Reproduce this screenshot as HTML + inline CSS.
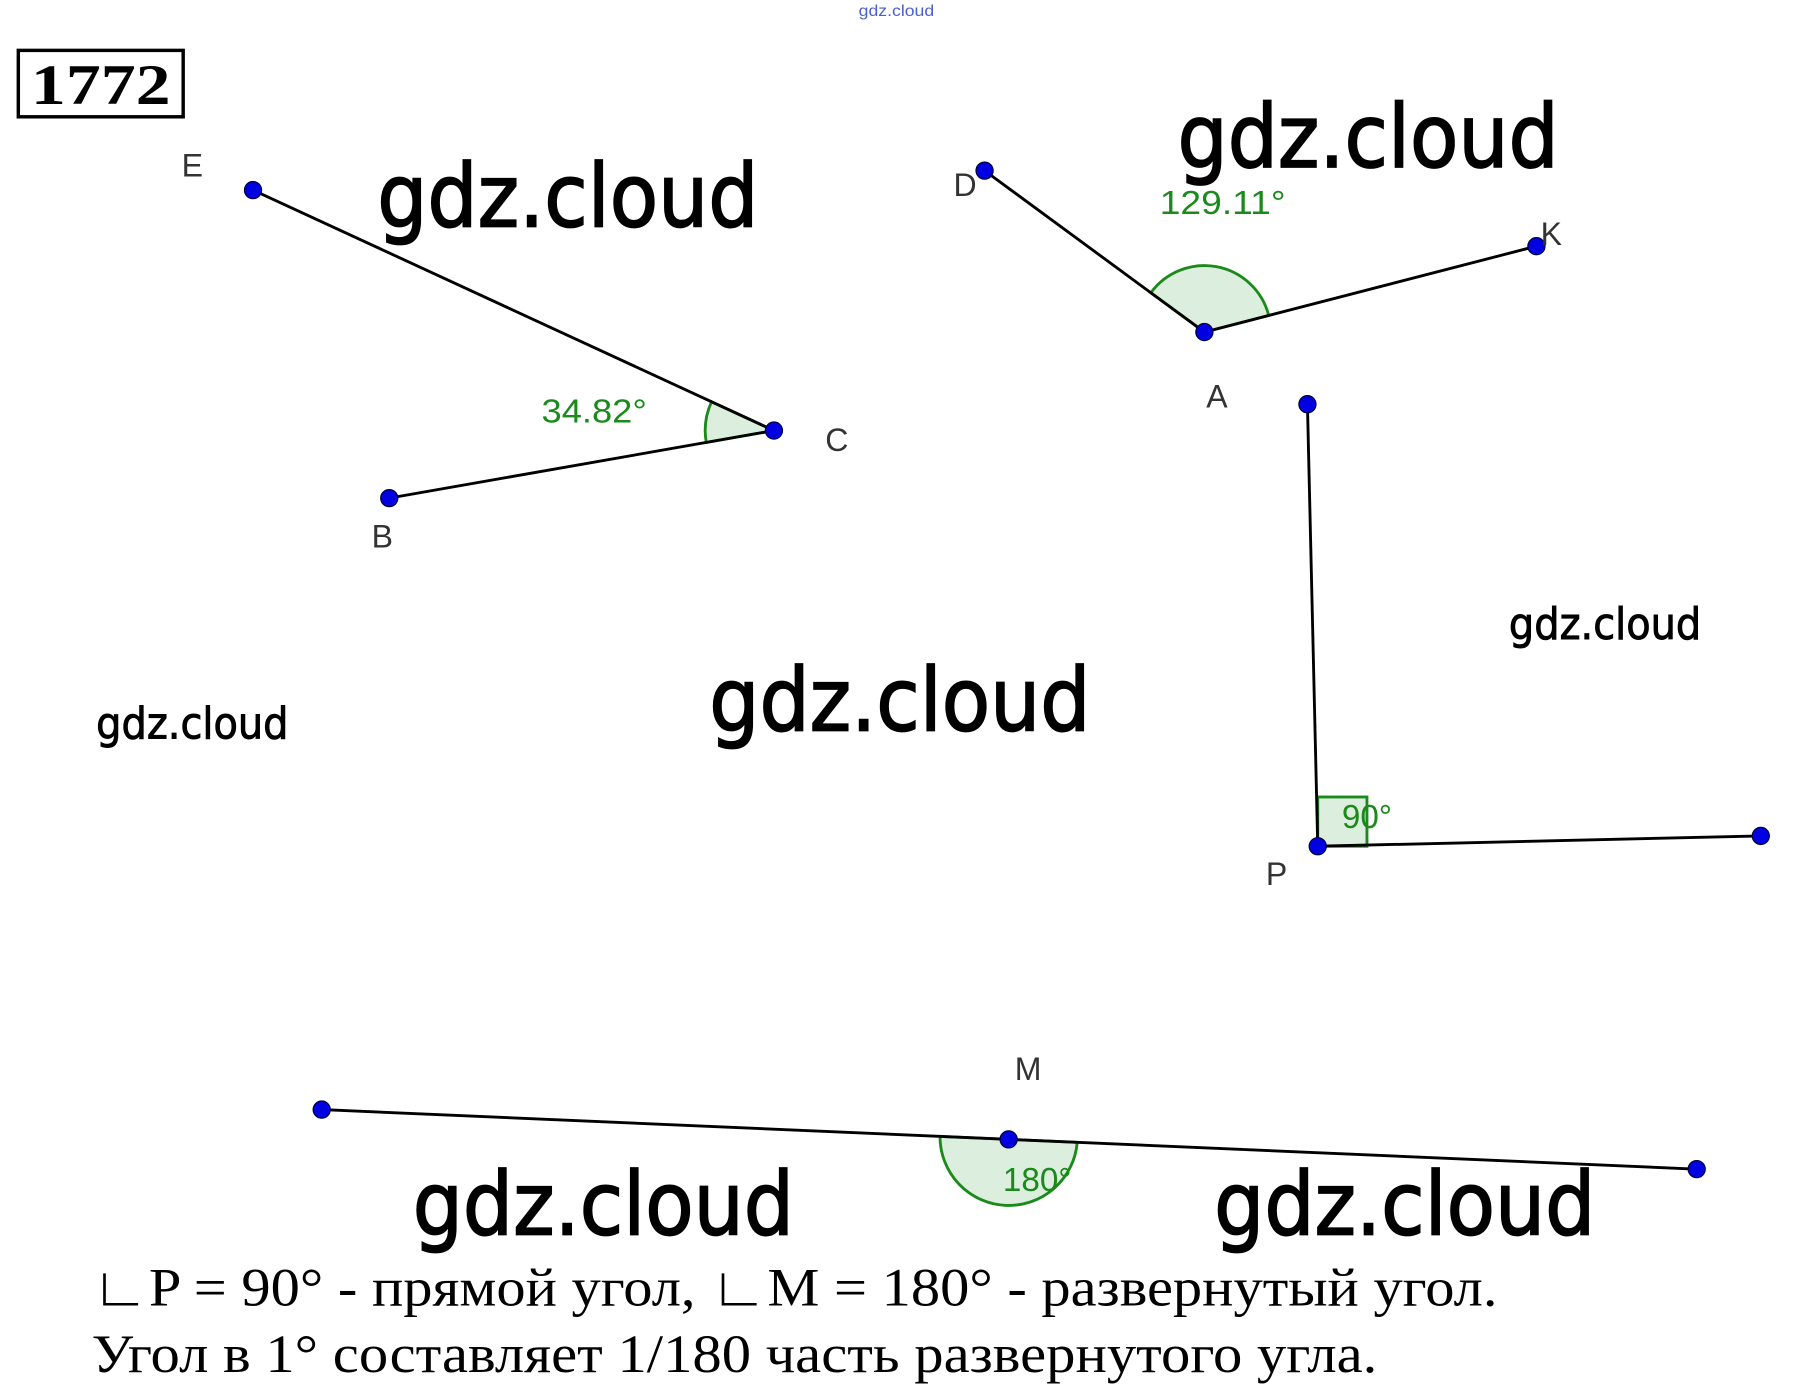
<!DOCTYPE html>
<html><head><meta charset="utf-8"><style>html,body{margin:0;padding:0;background:#fff}svg{display:block}</style></head><body>
<svg width="1794" height="1389" viewBox="0 0 1567 1213" preserveAspectRatio="none" xmlns="http://www.w3.org/2000/svg">
<rect width="1567" height="1213" fill="#fff"/>
<text x="783" y="14" font-family="Liberation Sans, sans-serif" font-size="14" fill="#4a5fd0" text-anchor="middle" textLength="66" lengthAdjust="spacingAndGlyphs">gdz.cloud</text>
<rect x="16" y="44" width="144" height="58" fill="none" stroke="#000" stroke-width="3"/>
<text x="88" y="91" font-family="Liberation Serif, serif" font-weight="bold" font-size="50" text-anchor="middle" textLength="122" lengthAdjust="spacingAndGlyphs">1772</text>
<g fill="#dceedd" stroke="#1a8a1a" stroke-width="2.5">
<path d="M676 376 L621.5 350.9 A60 60 0 0 0 616.9 386.4 Z"/>
<path d="M1052 290 L1005.2 255.7 A58 58 0 0 1 1108.2 275.5 Z"/>
<rect x="1151" y="696" width="43" height="43"/>
<path d="M881 995 L821.1 992.4 A60 60 0 0 0 940.9 997.6 Z"/>
</g>
<g stroke="#000" stroke-width="2.5"><line x1="1142" y1="353" x2="1151" y2="739"/><line x1="1538" y1="730" x2="1151" y2="739"/><line x1="281" y1="969" x2="1482" y2="1021"/><line x1="221" y1="166" x2="676" y2="376"/><line x1="340" y1="435" x2="676" y2="376"/><line x1="860" y1="149" x2="1052" y2="290"/><line x1="1342" y1="215" x2="1052" y2="290"/></g>
<g fill="#0000e0" stroke="#000033" stroke-width="1">
<circle cx="221" cy="166" r="7.5"/><circle cx="676" cy="376" r="7.5"/><circle cx="340" cy="435" r="7.5"/>
<circle cx="860" cy="149" r="7.5"/><circle cx="1052" cy="290" r="7.5"/><circle cx="1342" cy="215" r="7.5"/>
<circle cx="1142" cy="353" r="7.5"/><circle cx="1151" cy="739" r="7.5"/><circle cx="1538" cy="730" r="7.5"/>
<circle cx="281" cy="969" r="7.5"/><circle cx="881" cy="995" r="7.5"/><circle cx="1482" cy="1021" r="7.5"/>
</g>
<g font-family="Liberation Sans, sans-serif" font-size="28" fill="#333" text-anchor="middle">
<text x="168" y="154">E</text><text x="731" y="394">C</text><text x="334" y="478">B</text>
<text x="843" y="171">D</text><text x="1355" y="214">K</text><text x="1063" y="356">A</text>
<text x="1115" y="773">P</text><text x="898" y="943">M</text>
</g>
<g font-family="Liberation Sans, sans-serif" font-size="29" fill="#1a8a1a" text-anchor="middle">
<text x="519" y="369" textLength="92" lengthAdjust="spacingAndGlyphs">34.82°</text><text x="1068" y="187" textLength="110" lengthAdjust="spacingAndGlyphs">129.11°</text>
<text x="1194" y="723">90°</text><text x="906" y="1040">180°</text>
</g>
<g font-family="DejaVu Sans, Liberation Sans, sans-serif" font-size="76" fill="#000" stroke="#000" stroke-width="1.5" text-anchor="middle">
<text x="496" y="198" textLength="333" lengthAdjust="spacingAndGlyphs">gdz.cloud</text><text x="1195" y="146" textLength="333" lengthAdjust="spacingAndGlyphs">gdz.cloud</text>
<text x="786" y="638" textLength="333" lengthAdjust="spacingAndGlyphs">gdz.cloud</text><text x="527" y="1078" textLength="333" lengthAdjust="spacingAndGlyphs">gdz.cloud</text><text x="1227" y="1078" textLength="333" lengthAdjust="spacingAndGlyphs">gdz.cloud</text>
</g>
<g font-family="DejaVu Sans, Liberation Sans, sans-serif" font-size="38" fill="#000" stroke="#000" stroke-width="0.8" text-anchor="middle">
<text x="168" y="645" textLength="168" lengthAdjust="spacingAndGlyphs">gdz.cloud</text><text x="1402" y="558" textLength="168" lengthAdjust="spacingAndGlyphs">gdz.cloud</text>
</g>
<g font-family="Liberation Serif, serif" font-size="47" fill="#000">
<text x="80" y="1140" textLength="1228" lengthAdjust="spacingAndGlyphs">∟P = 90° - прямой угол, ∟M = 180° - развернутый угол.</text>
<text x="80" y="1198" textLength="1123" lengthAdjust="spacingAndGlyphs">Угол в 1° составляет 1/180 часть развернутого угла.</text>
</g>
</svg>
</body></html>
